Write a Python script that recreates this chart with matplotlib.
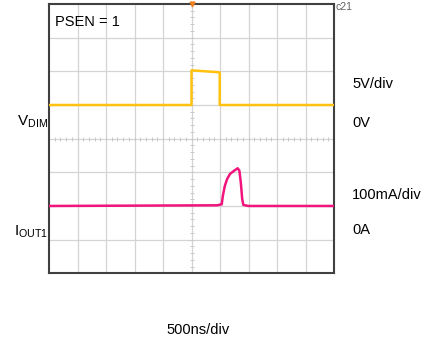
import numpy as np
import matplotlib
matplotlib.use('Agg')
import matplotlib.pyplot as plt

plt.rcParams['font.family'] = ['Liberation Sans', 'DejaVu Sans']

# scope traces, in divisions (x: 10 div, y: 8 div)
vdim_t = [0, 5.0, 5.0, 5.5, 5.99, 5.99, 10]
vdim_y = [5.0, 5.0, 6.03, 6.0, 5.97, 5.0, 5.0]

iout_t = [0, 5.9, 6.06, 6.1, 6.17, 6.25, 6.35, 6.5, 6.62, 6.68, 6.73, 6.78, 6.82, 7.0, 10]
iout_y = [2.0, 2.02, 2.05, 2.3, 2.6, 2.8, 2.95, 3.05, 3.12, 3.05, 2.7, 2.2, 2.03, 2.0, 2.0]

right_labels = ['5V/div', '0V', '100mA/div', '0A']
right_label_y = [84, 123, 195, 230]

W, H = 436, 339
fig = plt.figure(figsize=(W / 100, H / 100), dpi=100)
ax = fig.add_axes([49 / W, 1 - 273.3 / H, 285 / W, 269.3 / H])
ax.set_xlim(0, 10)
ax.set_ylim(0, 8)

# grid
for gx in range(1, 10):
    ax.axvline(gx, color='#d4d4d4', lw=0.9, zorder=1)
for gy in range(1, 8):
    ax.axhline(gy, color='#d4d4d4', lw=0.9, zorder=1)
# minor ticks on center lines
ax.plot(np.full(40, 5.0), np.arange(0, 8, 0.2), ls='none', marker='_', ms=3, color='#c8c8c8', mew=0.7, zorder=1)
ax.plot(np.arange(0, 10, 0.2), np.full(50, 4.0), ls='none', marker='|', ms=3, color='#c8c8c8', mew=0.7, zorder=1)

ax.plot(vdim_t, vdim_y, color='#ffc20e', lw=1.8, zorder=3)
ax.plot(iout_t, iout_y, color='#f0147c', lw=1.8, zorder=3)

# trigger marker
ax.plot([5.0], [8.0], marker='v', ms=3.5, color='#f08020', clip_on=False, zorder=4)

ax.set_xticks([])
ax.set_yticks([])
for s in ax.spines.values():
    s.set_color('#404040')
    s.set_linewidth(1.5)

ax.text(0.02, 0.935, 'PSEN = 1', transform=ax.transAxes, fontsize=10.5, va='center', ha='left')

def ftext(x, y, s, **kw):
    fig.text(x / W, 1 - y / H, s, **kw)

for lab, y in zip(right_labels, right_label_y):
    ftext(352, y, lab, fontsize=10.5, va='center', ha='left')

ftext(17, 122, r'V$_{\mathregular{DIM}}$', fontsize=11, va='center', ha='left')
ftext(14, 232, r'I$_{\mathregular{OUT1}}$', fontsize=11, va='center', ha='left')
ftext(198, 330, '500ns/div', fontsize=10.5, va='center', ha='center')
ftext(335, 7, 'c21', fontsize=7.5, color='#606060', va='center', ha='left')

fig.savefig('out.png', dpi=100)
